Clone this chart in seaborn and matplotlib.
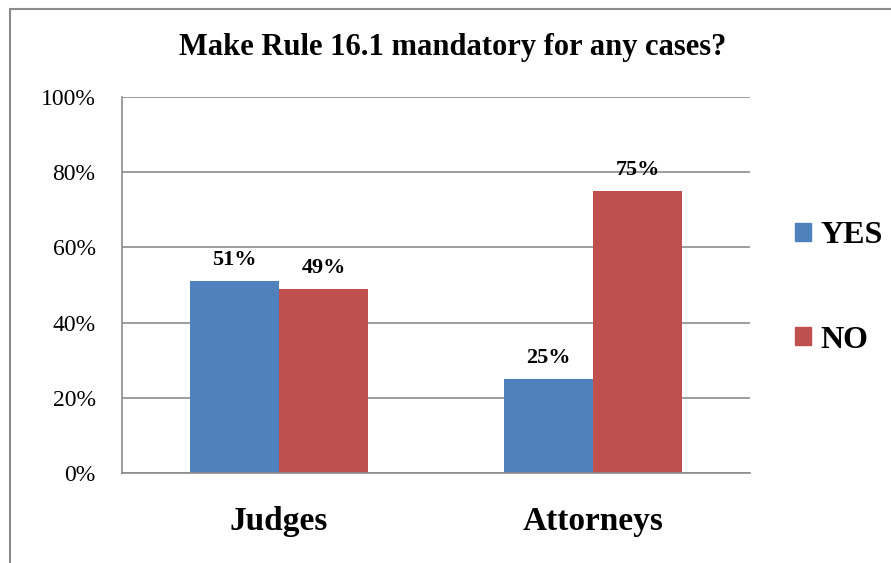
import matplotlib
matplotlib.use("Agg")
import matplotlib.pyplot as plt
import matplotlib.lines as mlines
import matplotlib.patches as mpatches
import pandas as pd
import seaborn as sns

groups = ["Judges", "Judges", "Attorneys", "Attorneys"]
answers = ["YES", "NO", "YES", "NO"]
shares = [51, 49, 25, 75]
yticks = [0, 20, 40, 60, 80, 100]
colors = {"YES": "#4F81BD", "NO": "#C0504D"}

df = pd.DataFrame({"group": groups, "answer": answers, "share": shares})

sns.set_style("white")
plt.rcParams["font.family"] = ["Liberation Serif", "DejaVu Serif"]
plt.rcParams["text.color"] = "black"
plt.rcParams["xtick.color"] = "black"
plt.rcParams["ytick.color"] = "black"

fig = plt.figure(figsize=(8.91, 5.63), dpi=100)
ax = fig.add_axes([122 / 891, 1 - 473 / 563, 628 / 891, 376 / 563])

sns.barplot(data=df, x="group", y="share", hue="answer", palette=colors,
            width=0.57, saturation=1, ax=ax, legend=False, errorbar=None,
            linewidth=0)

for c in ax.containers:
    ax.bar_label(c, fmt="%d%%", fontsize=16, fontweight="bold", padding=8)

ax.set_ylim(0, 100)
ax.set_xlim(-0.5, 1.5)
ax.set_yticks(yticks)
ax.set_yticklabels([f"{t}%" for t in yticks])
ax.tick_params(axis="y", length=0, pad=19, labelsize=17)
ax.tick_params(axis="x", length=0, pad=24)
for lab in ax.get_xticklabels():
    lab.set_fontsize(24)
    lab.set_fontweight("bold")
ax.set_xlabel("")
ax.set_ylabel("")
ax.yaxis.grid(True, color="#8c8c8c", linewidth=1.2)
ax.set_axisbelow(True)
for side in ["top", "right"]:
    ax.spines[side].set_visible(False)
for side in ["left", "bottom"]:
    ax.spines[side].set_color("#8c8c8c")
    ax.spines[side].set_linewidth(1.2)

fig.text(453 / 891, 1 - 47 / 563, "Make Rule 16.1 mandatory for any cases?",
         ha="center", va="center", fontsize=22, fontweight="bold")

handles = [mpatches.Patch(color=colors[k], label=k) for k in ["YES", "NO"]]
fig.legend(handles=handles, loc="center left", bbox_to_anchor=(795 / 891, 1 - 288 / 563),
           frameon=False, prop={"size": 23, "weight": "bold"}, handlelength=0.5,
           handleheight=0.5, handletextpad=0.3, labelspacing=2.36,
           borderpad=0, borderaxespad=0)

# outer chart frame (only left and top visible)
fig.add_artist(mlines.Line2D([10 / 891, 10 / 891], [0, 1 - 9 / 563], color="#8c8c8c", linewidth=1.5))
fig.add_artist(mlines.Line2D([10 / 891, 1], [1 - 9 / 563, 1 - 9 / 563], color="#8c8c8c", linewidth=1.5))

fig.savefig("out.png", dpi=100)
